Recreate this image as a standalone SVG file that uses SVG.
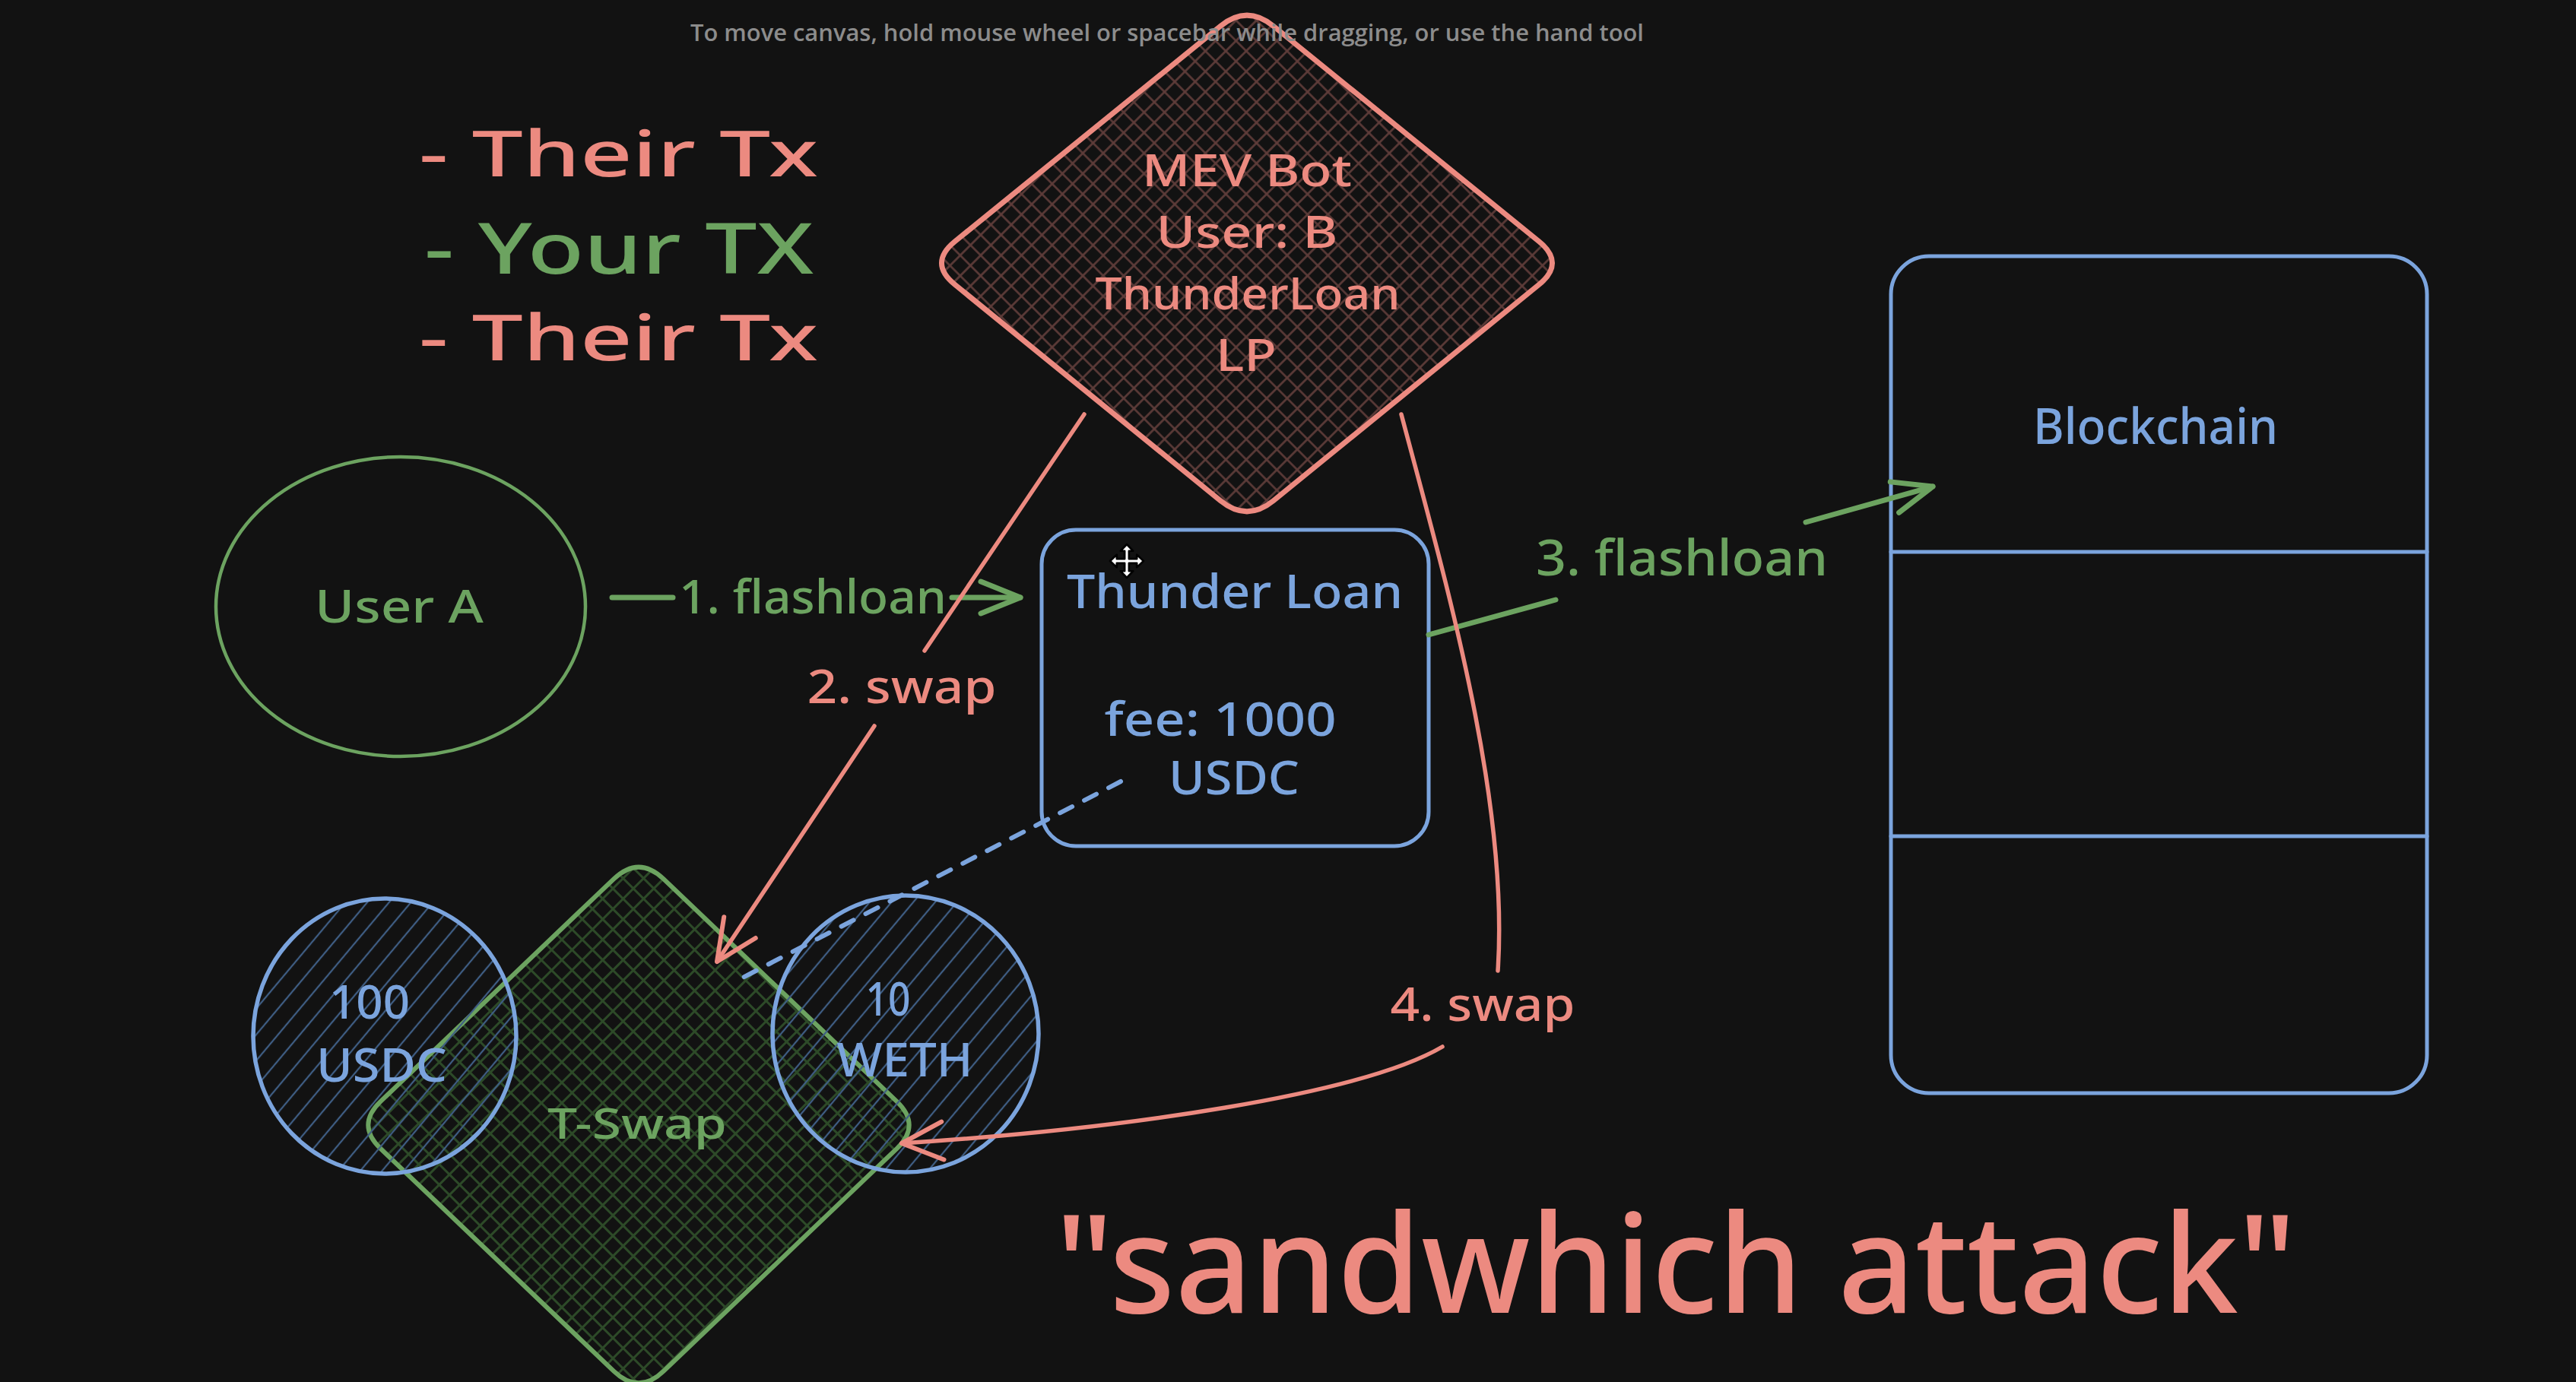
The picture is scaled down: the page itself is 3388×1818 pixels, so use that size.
<svg xmlns="http://www.w3.org/2000/svg" width="3388" height="1818" viewBox="0 0 3388 1818">
<style>
.t{font-family:"Noto Sans","DejaVu Sans",sans-serif;font-weight:500}
.s{fill:#ec8a80}.g{fill:#6ca360}.b{fill:#7ba4dd}
.so{fill:none;stroke:#ec8a80;stroke-width:5.5;stroke-linecap:round;stroke-linejoin:round}
.go{fill:none;stroke:#6ca360;stroke-width:7;stroke-linecap:round;stroke-linejoin:round}
.bo{fill:none;stroke:#7ba4dd;stroke-width:5;stroke-linecap:round}
</style>
<defs>
<pattern id="hx-red" patternUnits="userSpaceOnUse" width="19" height="19" patternTransform="rotate(45)"><path d="M9.5,0 V19 M0,9.5 H19" stroke="#5e3c39" stroke-width="2.6"/></pattern>
<pattern id="hx-green" patternUnits="userSpaceOnUse" width="19" height="19" patternTransform="rotate(45)"><path d="M9.5,0 V19 M0,9.5 H19" stroke="#2d4a28" stroke-width="3"/></pattern>
<pattern id="hx-blue" patternUnits="userSpaceOnUse" width="22" height="22" patternTransform="rotate(40)"><path d="M11,0 V22" stroke="#3f5e85" stroke-width="2.2"/></pattern>
<marker id="ah-s" viewBox="-64 -32 70 64" markerWidth="70" markerHeight="64" refX="0" refY="0" orient="auto" markerUnits="userSpaceOnUse" overflow="visible"><path d="M-54,-25 L0,0 L-54,25" fill="none" stroke="#ec8a80" stroke-width="6" stroke-linecap="round" stroke-linejoin="round"/></marker>
<marker id="ah-g" viewBox="-64 -32 70 64" markerWidth="70" markerHeight="64" refX="0" refY="0" orient="auto" markerUnits="userSpaceOnUse" overflow="visible"><path d="M-52,-21 L0,0 L-52,21" fill="none" stroke="#6ca360" stroke-width="7" stroke-linecap="round" stroke-linejoin="round"/></marker>
</defs>
<rect width="3388" height="1818" fill="#121212"/>

<g id="legend" class="t" font-size="84">
<text class="s" x="551" y="232" textLength="525" lengthAdjust="spacingAndGlyphs">- Their Tx</text>
<text class="g" x="558" y="360" font-size="92" textLength="512" lengthAdjust="spacingAndGlyphs">- Your TX</text>
<text class="s" x="551" y="474" textLength="525" lengthAdjust="spacingAndGlyphs">- Their Tx</text>
</g>

<g id="mev-bot">
<path d="M1605.1,34.4 Q1640,6 1674.9,34.4 L2024.1,317.6 Q2059,346 2024.1,374.4 L1674.9,658.6 Q1640,687 1605.1,658.6 L1255.9,374.4 Q1221,346 1255.9,317.6 Z" fill="url(#hx-red)" stroke="#ec8a80" stroke-width="7"/>
<g class="t s" font-size="58" text-anchor="middle">
<text x="1640" y="245" textLength="276" lengthAdjust="spacingAndGlyphs">MEV Bot</text>
<text x="1640" y="326" textLength="239" lengthAdjust="spacingAndGlyphs">User: B</text>
<text x="1641" y="407" textLength="401" lengthAdjust="spacingAndGlyphs">ThunderLoan</text>
<text x="1639" y="488" textLength="80" lengthAdjust="spacingAndGlyphs">LP</text>
</g>
</g>

<g id="user-a">
<ellipse cx="527" cy="798" rx="243" ry="197" fill="none" stroke="#6ca360" stroke-width="4.5"/>
<text class="t g" x="525" y="819" font-size="60" text-anchor="middle" textLength="222" lengthAdjust="spacingAndGlyphs">User A</text>
</g>

<g id="thunder-loan">
<rect x="1370" y="697" width="509" height="416" rx="45" class="bo"/>
<g class="t b" font-size="62" text-anchor="middle">
<text x="1624" y="800" textLength="442" lengthAdjust="spacingAndGlyphs">Thunder Loan</text>
<text x="1605" y="968" textLength="305" lengthAdjust="spacingAndGlyphs">fee: 1000</text>
<text x="1623" y="1045" textLength="172" lengthAdjust="spacingAndGlyphs">USDC</text>
</g>
</g>

<g id="blockchain">
<rect x="2487" y="337" width="705" height="1101" rx="50" class="bo" stroke-width="4.5"/>
<path d="M2487,726 H3192 M2487,1100 H3192" class="bo" stroke-width="4.5"/>
<text class="t b" x="2835" y="584" font-size="66" text-anchor="middle" textLength="322" lengthAdjust="spacingAndGlyphs">Blockchain</text>
</g>

<g id="t-swap">
<path d="M807.4,1156.1 Q840,1125 872.6,1156.1 L1179.4,1448.9 Q1212,1480 1179.4,1511.1 L872.6,1803.9 Q840,1835 807.4,1803.9 L500.6,1511.1 Q468,1480 500.6,1448.9 Z" fill="url(#hx-green)" stroke="#6ca360" stroke-width="6"/>
<text class="t g" x="838" y="1498" font-size="56" text-anchor="middle" textLength="236" lengthAdjust="spacingAndGlyphs">T-Swap</text>
</g>

<g id="pool-usdc">
<ellipse cx="506" cy="1363" rx="173" ry="181" fill="url(#hx-blue)" stroke="#7ba4dd" stroke-width="5.5"/>
<g class="t b" font-size="62" text-anchor="middle">
<text x="486" y="1340" textLength="106" lengthAdjust="spacingAndGlyphs">100</text>
<text x="502" y="1423" textLength="172" lengthAdjust="spacingAndGlyphs">USDC</text>
</g>
</g>

<g id="pool-weth">
<ellipse cx="1191" cy="1360" rx="175" ry="182" fill="url(#hx-blue)" stroke="#7ba4dd" stroke-width="5.5"/>
<g class="t b" font-size="62" text-anchor="middle">
<text x="1168" y="1336" textLength="59" lengthAdjust="spacingAndGlyphs">10</text>
<text x="1190" y="1416" textLength="179" lengthAdjust="spacingAndGlyphs">WETH</text>
</g>
</g>

<g id="connectors">
<path class="go" d="M805,786 H885"/>
<path class="go" d="M1252,786 H1342" marker-end="url(#ah-g)"/>
<text class="t g" x="1069" y="807" font-size="62" text-anchor="middle" textLength="352" lengthAdjust="spacingAndGlyphs">1. flashloan</text>

<path class="so" d="M1426,545 L1216,856"/>
<path class="so" d="M1150,955 L943,1265" marker-end="url(#ah-s)"/>
<text class="t s" x="1186" y="925" font-size="62" text-anchor="middle" textLength="249" lengthAdjust="spacingAndGlyphs">2. swap</text>

<path d="M1474,1028 L975,1287" fill="none" stroke="#7ba4dd" stroke-width="6" stroke-dasharray="18 18" stroke-linecap="round"/>

<path class="go" d="M1879,835 L2046,789"/>
<path class="go" d="M2375,687 L2542,640" marker-end="url(#ah-g)"/>
<text class="t g" x="2212" y="757" font-size="66" text-anchor="middle" textLength="384" lengthAdjust="spacingAndGlyphs">3. flashloan</text>

<path class="so" d="M1843,545 C1900,760 1985,1050 1970,1277"/>
<path class="so" d="M1897,1377 C1790,1440 1480,1485 1186,1504" marker-end="url(#ah-s)"/>
<text class="t s" x="1950" y="1343" font-size="62" text-anchor="middle" textLength="243" lengthAdjust="spacingAndGlyphs">4. swap</text>
</g>

<g id="title">
<text class="t s" x="2204" y="1727" font-size="180" text-anchor="middle" textLength="1632" lengthAdjust="spacingAndGlyphs">&quot;sandwhich attack&quot;</text>
</g>

<g id="cursor" transform="translate(1482,738) scale(22)">
<path d="M0,-1 L0.38,-0.6 L0.13,-0.6 L0.13,-0.13 L0.6,-0.13 L0.6,-0.38 L1,0 L0.6,0.38 L0.6,0.13 L0.13,0.13 L0.13,0.6 L0.38,0.6 L0,1 L-0.38,0.6 L-0.13,0.6 L-0.13,0.13 L-0.6,0.13 L-0.6,0.38 L-1,0 L-0.6,-0.38 L-0.6,-0.13 L-0.13,-0.13 L-0.13,-0.6 L-0.38,-0.6 Z" fill="#ffffff" stroke="#000000" stroke-width="0.12" stroke-linejoin="round"/>
</g>

<text x="908" y="54" font-family="'Open Sans','Noto Sans',sans-serif" font-size="30" font-weight="600" fill="#8c8c8c" textLength="1254" lengthAdjust="spacingAndGlyphs">To move canvas, hold mouse wheel or spacebar while dragging, or use the hand tool</text>
</svg>
